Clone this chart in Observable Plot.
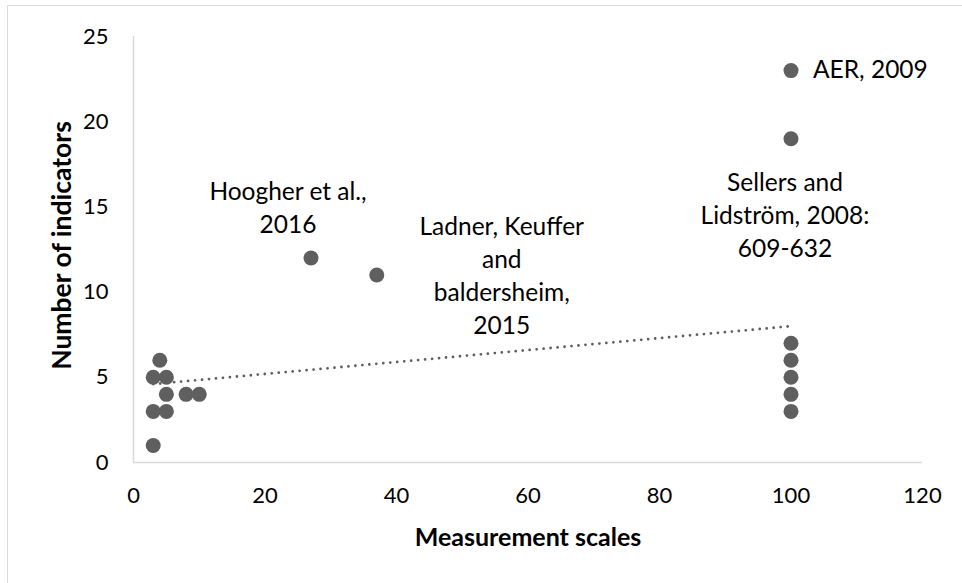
<!DOCTYPE html>
<html>
<head>
<meta charset="utf-8">
<script src="https://cdn.jsdelivr.net/npm/d3@7"></script>
<script src="https://cdn.jsdelivr.net/npm/@observablehq/plot@0.6"></script>
<style>
  html, body { margin: 0; padding: 0; background: #fff; overflow: hidden; }
  #wrap { position: relative; width: 962px; height: 583px; }
  #frame { position: absolute; left: 7px; top: 5px; width: 1000px; height: 700px;
           border: 1.5px solid #d9d9d9; pointer-events: none; box-sizing: border-box; }
  #chart { position: absolute; left: 0; top: 0; }
</style>
</head>
<body>
<div id="wrap"><div id="chart"></div><div id="frame"></div></div>
<script>
// Data
const scaleX = [3, 4, 3, 5, 5, 5, 8, 10, 3, 27, 37, 100, 100, 100, 100, 100, 100, 100];
const indicators = [5, 6, 3, 5, 4, 3, 4, 4, 1, 12, 11, 23, 19, 7, 6, 5, 4, 3];
const trendX = [3, 100];
const trendY = [4.6, 8.0];
const xTicks = [0, 20, 40, 60, 80, 100, 120];
const yTicks = [0, 5, 10, 15, 20, 25];
const labelHoogher = {x: 27, y: 12, text: "Hoogher et al.,\n2016"};
const labelLadner = {x: 37, y: 11, text: "Ladner, Keuffer\nand\nbaldersheim,\n2015"};
const labelAER = {x: 100, y: 23, text: "AER, 2009"};
const labelSellers = {x: 100, y: 19, text: "Sellers and\nLidström, 2008:\n609-632"};
const xTitle = "Measurement scales";
const yTitle = "Number of indicators";

const points = scaleX.map((x, i) => ({x, y: indicators[i]}));
const trend = trendX.map((x, i) => ({x, y: trendY[i]}));

const gray = "#5f5f5f";
const font = "Lato, 'Open Sans', sans-serif";
const fs = 24.5;
const lh = 33 / fs;

const chart = Plot.plot({
  width: 962,
  height: 583,
  marginLeft: 133,
  marginRight: 40,
  marginTop: 36,
  marginBottom: 121,
  style: {fontFamily: font, fontSize: "22px", color: "#000", background: "transparent"},
  x: {domain: [0, 120]},
  y: {domain: [0, 25]},
  marks: [
    Plot.axisX({ticks: xTicks, tickSize: 0, tickPadding: 25, label: null, fontSize: 22}),
    Plot.axisY({ticks: yTicks, tickSize: 0, tickPadding: 25, label: null, fontSize: 22}),
    Plot.ruleY([0], {stroke: "#d9d9d9", strokeWidth: 1.5}),
    Plot.ruleX([0], {stroke: "#d9d9d9", strokeWidth: 1.5}),
    Plot.line(trend, {x: "x", y: "y", stroke: gray, strokeWidth: 2.8, strokeDasharray: "0,7", strokeLinecap: "round"}),
    Plot.dot(points, {x: "x", y: "y", r: 7.5, fill: gray, stroke: "none"}),
    Plot.text([labelHoogher], {x: "x", y: "y", text: "text", dx: -23, dy: -52, lineAnchor: "middle", lineHeight: lh, fontSize: fs, fill: "#000"}),
    Plot.text([labelLadner], {x: "x", y: "y", text: "text", dx: 125, dy: -1, lineAnchor: "middle", lineHeight: lh, fontSize: fs, fill: "#000"}),
    Plot.text([labelSellers], {x: "x", y: "y", text: "text", dx: -6, dy: 75, lineAnchor: "middle", lineHeight: lh, fontSize: fs, fill: "#000"}),
    Plot.text([labelAER], {x: "x", y: "y", text: "text", dx: 22, dy: 0, textAnchor: "start", fontSize: fs, fill: "#000"}),
    Plot.text([xTitle], {frameAnchor: "bottom", dy: 75, textAnchor: "middle", lineAnchor: "middle", text: d => d, fontSize: 25, fontWeight: "bold", fill: "#000"}),
    Plot.text([yTitle], {frameAnchor: "left", dx: -71, dy: -4, rotate: -90, textAnchor: "middle", lineAnchor: "middle", text: d => d, fontSize: 26.5, fontWeight: "bold", fill: "#000"})
  ]
});
document.getElementById("chart").appendChild(chart);
</script>
</body>
</html>
